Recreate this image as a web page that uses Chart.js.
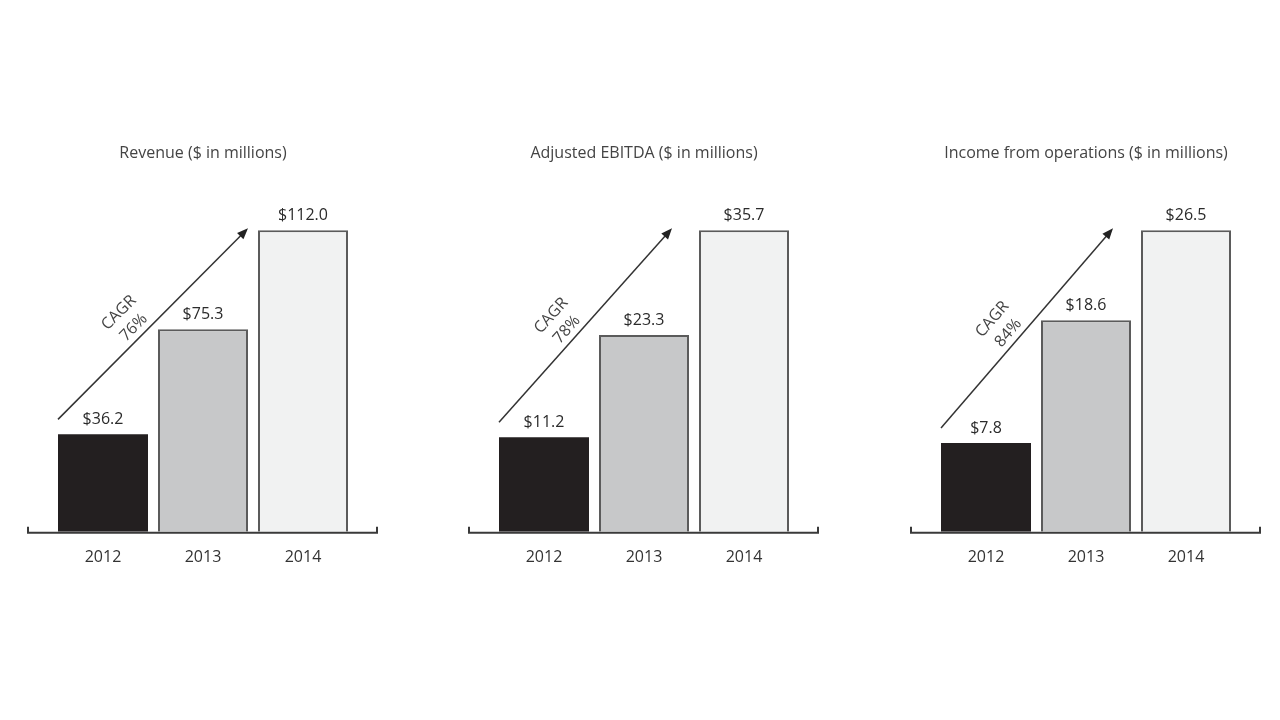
<!DOCTYPE html>
<html>
<head>
<meta charset="utf-8">
<script src="https://cdn.jsdelivr.net/npm/chart.js@4.4.1/dist/chart.umd.min.js"></script>
<style>
    html, body { margin: 0; padding: 0; background: #fff; }
    .wrap { position: relative; width: 1280px; height: 720px; overflow: hidden; }
    .panel { position: absolute; top: 0; width: 441px; height: 720px; }
</style>
</head>
<body>
<div class="wrap">
    <div class="panel" style="left:0px"><canvas id="revenueChart" width="441" height="720"></canvas></div>
    <div class="panel" style="left:441px"><canvas id="ebitdaChart" width="441" height="720"></canvas></div>
    <div class="panel" style="left:883px"><canvas id="incomeChart" width="441" height="720"></canvas></div>
</div>
<script>
const years = ['2012', '2013', '2014'];
const revenue = [36.2, 75.3, 112.0];
const ebitda = [11.2, 23.3, 35.7];
const incomeOps = [7.8, 18.6, 26.5];
const chartTitles = ['Revenue ($ in millions)', 'Adjusted EBITDA ($ in millions)', 'Income from operations ($ in millions)'];
const cagrLabels = ['76%', '78%', '84%'];

const FONT = '"Open Sans", "Noto Sans", sans-serif';
const barColors = ['#231f20', '#c7c8c9', '#f1f2f2'];
const barBorders = ['#231f20', '#5b5b5b', '#5b5b5b'];

// draws the bracket axis, value labels and the CAGR arrow
const decorPlugin = {
    id: 'decor',
    afterDatasetsDraw(chart, args, opts) {
        const ctx = chart.ctx;
        const area = chart.chartArea;
        const bars = chart.getDatasetMeta(0).data;
        const values = chart.data.datasets[0].data;

        ctx.save();

        // bracket baseline
        const y0 = area.bottom + 1;
        const xl = area.left - 25, xr = area.right + 24;
        ctx.strokeStyle = '#3a3a3a';
        ctx.lineWidth = 2;
        ctx.beginPath();
        ctx.moveTo(xl, y0 - 6);
        ctx.lineTo(xl, y0);
        ctx.lineTo(xr, y0);
        ctx.lineTo(xr, y0 - 6);
        ctx.stroke();

        // value labels
        ctx.fillStyle = '#2b2b2b';
        ctx.font = '16px ' + FONT;
        ctx.textAlign = 'center';
        ctx.textBaseline = 'middle';
        bars.forEach((bar, i) => {
            ctx.fillText('$' + values[i].toFixed(1), bar.x, bar.y - 15);
        });

        // CAGR arrow
        const b0 = bars[0], b1 = bars[1], b2 = bars[2];
        const sx = b0.x - b0.width / 2, sy = b0.y - 15;
        const ex = b1.x + b1.width / 2 - opts.endInset, ey = b2.y - 2;
        const ang = Math.atan2(ey - sy, ex - sx);
        ctx.strokeStyle = '#333';
        ctx.lineWidth = 1.5;
        ctx.beginPath();
        ctx.moveTo(sx, sy);
        ctx.lineTo(ex - 8 * Math.cos(ang), ey - 8 * Math.sin(ang));
        ctx.stroke();
        ctx.fillStyle = '#222';
        ctx.beginPath();
        ctx.moveTo(ex, ey);
        ctx.lineTo(ex - 11 * Math.cos(ang) + 4.5 * Math.sin(ang), ey - 11 * Math.sin(ang) - 4.5 * Math.cos(ang));
        ctx.lineTo(ex - 11 * Math.cos(ang) - 4.5 * Math.sin(ang), ey - 11 * Math.sin(ang) + 4.5 * Math.cos(ang));
        ctx.closePath();
        ctx.fill();

        // rotated text along the arrow
        const len = Math.hypot(ex - sx, ey - sy);
        const along = len * 0.44;
        const px = sx + along * Math.cos(ang), py = sy + along * Math.sin(ang);
        ctx.translate(px, py);
        ctx.rotate(ang);
        ctx.fillStyle = '#444';
        ctx.font = '16px ' + FONT;
        ctx.fillText('CAGR', 0, -32);
        ctx.fillText(opts.cagr, 0, -11);

        ctx.restore();
    }
};

function makeChart(id, title, values, cagr, endInset) {
    const ctx = document.getElementById(id);
    if (!ctx) return null;

    return new Chart(ctx, {
        type: 'bar',
        data: {
            labels: years,
            datasets: [{
                data: values,
                backgroundColor: barColors,
                borderColor: barBorders,
                borderWidth: [0, 2, 2],
                borderSkipped: 'bottom',
                barPercentage: 0.9,
                categoryPercentage: 1.0
            }]
        },
        options: {
            responsive: false,
            animation: false,
            layout: {
                padding: { top: 130, bottom: 137, left: 53, right: 88 }
            },
            plugins: {
                legend: { display: false },
                tooltip: { enabled: false },
                title: {
                    display: true,
                    text: title,
                    color: '#444',
                    font: { family: FONT, size: 16, weight: 'normal' },
                    padding: { top: 14, bottom: 37 }
                },
                decor: { cagr: cagr, endInset: endInset }
            },
            scales: {
                x: {
                    grid: { display: false, drawTicks: false },
                    border: { display: false },
                    ticks: {
                        color: '#333',
                        padding: 16,
                        font: { family: FONT, size: 16 }
                    }
                },
                y: {
                    display: false,
                    min: 0,
                    max: Math.max(...values) * 1.1
                }
            }
        },
        plugins: [decorPlugin]
    });
}

makeChart('revenueChart', chartTitles[0], revenue, cagrLabels[0], 0);
makeChart('ebitdaChart', chartTitles[1], ebitda, cagrLabels[1], 17);
makeChart('incomeChart', chartTitles[2], incomeOps, cagrLabels[2], 18);
</script>
</body>
</html>
